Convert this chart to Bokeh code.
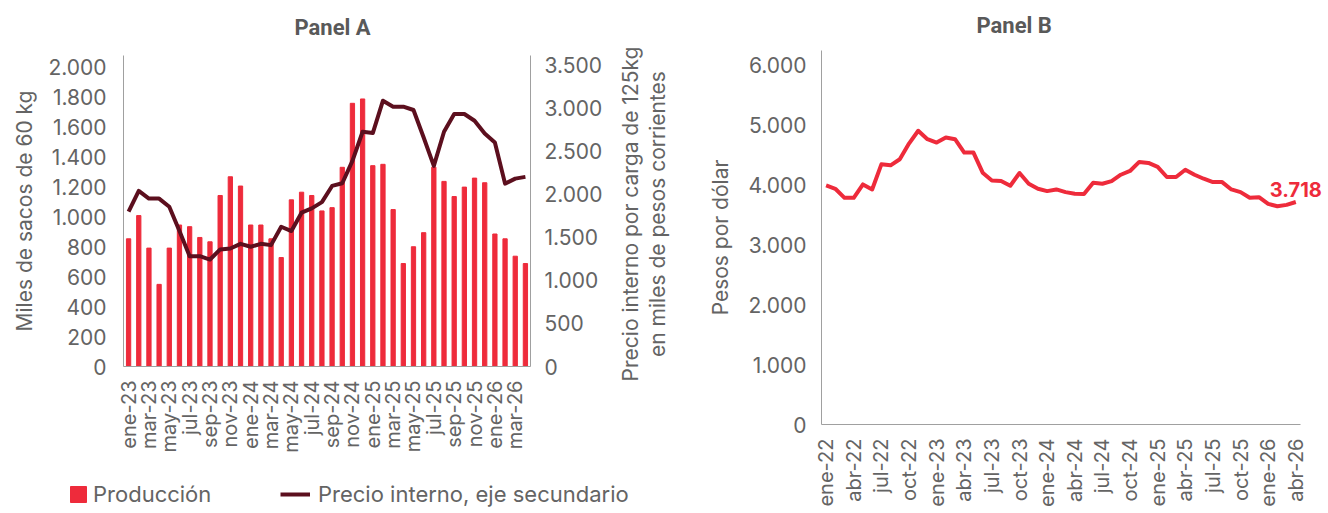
import math
from bokeh.plotting import figure
from bokeh.models import (Range1d, LinearAxis, FixedTicker, Legend, LegendItem, Label, Title)
from bokeh.layouts import row, column
from bokeh.embed import file_html
from bokeh.resources import INLINE

# ---------------- data ----------------
mes = ["ene", "feb", "mar", "abr", "may", "jun", "jul", "ago", "sep", "oct", "nov", "dic"]
meses_a = [f"{m}-{y}" for y in (23, 24, 25, 26) for m in mes][:40]      # ene-23 .. abr-26
meses_b = [f"{m}-{y}" for y in (22, 23, 24, 25, 26) for m in mes][:52]  # ene-22 .. abr-26

produccion = [852, 1007, 790, 548, 790, 944, 933, 861, 832, 1141,
              1266, 1204, 944, 944, 852, 727, 1112, 1163, 1141, 1038,
              1060, 1329, 1756, 1785, 1340, 1349, 1047, 687, 799, 893,
              1330, 1235, 1134, 1197, 1257, 1226, 884, 852, 736, 687]
precio = [1794, 2035, 1946, 1946, 1852, 1570, 1279, 1279, 1240, 1357,
          1368, 1422, 1388, 1422, 1407, 1620, 1570, 1783, 1833, 1905,
          2093, 2124, 2384, 2721, 2706, 3081, 3012, 3012, 2973, 2655,
          2326, 2721, 2927, 2927, 2849, 2701, 2597, 2120, 2178, 2198]
tasa = [3995, 3939, 3788, 3788, 4012, 3928, 4348, 4331, 4432, 4695,
        4909, 4768, 4712, 4796, 4768, 4544, 4544, 4208, 4079, 4070,
        3990, 4203, 4023, 3939, 3900, 3928, 3883, 3855, 3850, 4040,
        4023, 4068, 4174, 4237, 4388, 4371, 4304, 4136, 4136, 4258,
        4174, 4107, 4051, 4051, 3928, 3883, 3788, 3799, 3687, 3648,
        3670, 3718]

ticks_izq = [0, 200, 400, 600, 800, 1000, 1200, 1400, 1600, 1800, 2000]
ticks_der = [0, 500, 1000, 1500, 2000, 2500, 3000, 3500]
ticks_b = [0, 1000, 2000, 3000, 4000, 5000, 6000]

titulo_der = "Precio interno por carga de 125kg\nen miles de pesos corrientes"

# ---------------- style ----------------
FONT = "Inter"
GRAY = "#646464"
AXIS = "#A0A0A0"
RED = "#EE2B3B"
MAROON = "#5C0F1E"
FS = "21px"


def es(n):
    return f"{n:,}".replace(",", ".")


def style_axis(ax):
    ax.axis_line_color = AXIS
    ax.axis_line_width = 1
    ax.major_tick_line_color = None
    ax.minor_tick_line_color = None
    ax.major_tick_out = 0
    ax.major_tick_in = 0
    ax.minor_tick_out = 0
    ax.major_label_text_font = FONT
    ax.major_label_text_font_size = FS
    ax.major_label_text_color = GRAY
    ax.axis_label_text_font = FONT
    ax.axis_label_text_font_size = FS
    ax.axis_label_text_color = GRAY
    ax.axis_label_text_font_style = "normal"


def num_axis(ax, ticks):
    ax.ticker = FixedTicker(ticks=ticks)
    ax.major_label_overrides = {t: es(t) for t in ticks}


def blank(fig):
    fig.outline_line_color = None
    fig.xgrid.visible = False
    fig.ygrid.visible = False


def panel_title(text, offset, standoff):
    return Title(text=text, align="left", vertical_align="top", offset=offset,
                 standoff=standoff, text_font="Roboto", text_font_style="bold",
                 text_font_size="22px", text_color="#595959")


bar_style = dict(width=0.42, color=RED)
line_style = dict(line_width=4, color=MAROON, line_join="round")

# ---------------- Panel A ----------------
idx_a = list(range(len(meses_a)))
pA = figure(width=612, height=478, output_backend="svg", toolbar_location=None,
            x_range=Range1d(-0.5, len(meses_a) - 0.5), y_range=Range1d(0, 2075),
            min_border_left=123, min_border_right=82, min_border_top=55,
            min_border_bottom=112)
pA.extra_y_ranges = {"precio": Range1d(0, 3605)}
blank(pA)

bars = pA.vbar(x=idx_a, top=produccion, **bar_style)
lineA = pA.line(x=idx_a, y=precio, y_range_name="precio", **line_style)

xa = pA.xaxis[0]
style_axis(xa)
xa.ticker = FixedTicker(ticks=idx_a[::2])
xa.major_label_overrides = {i: meses_a[i] for i in idx_a[::2]}
xa.major_label_orientation = math.pi / 2
xa.major_label_standoff = 14
xa.major_label_text_font_size = "20px"

ya = pA.yaxis[0]
style_axis(ya)
num_axis(ya, ticks_izq)
ya.axis_label = "Miles de sacos de 60 kg"
ya.major_label_standoff = 17
ya.axis_label_standoff = 8

yr = LinearAxis(y_range_name="precio")
style_axis(yr)
num_axis(yr, ticks_der)
yr.major_label_standoff = 14
pA.add_layout(yr, "right")

pA.add_layout(panel_title("Panel A", 171, 27), "above")

# strip holding the secondary-axis title (reads bottom-to-top)
pT = figure(width=76, height=478, output_backend="svg", toolbar_location=None,
            x_range=Range1d(0, 1), y_range=Range1d(0, 1),
            x_axis_location=None, y_axis_location=None,
            min_border_left=0, min_border_right=0, min_border_top=0, min_border_bottom=0)
blank(pT)
pT.add_layout(Label(x=31.5, y=264.5, x_units="screen", y_units="screen",
                    text=titulo_der, angle=math.pi / 2,
                    text_align="center", text_baseline="middle",
                    text_font=FONT, text_font_size=FS, text_color=GRAY,
                    text_line_height=1.07))

# legend strip under Panel A
pL = figure(width=688, height=35, output_backend="svg", toolbar_location=None,
            x_range=Range1d(-100, -99), y_range=Range1d(-10000, -9999),
            x_axis_location=None, y_axis_location=None,
            min_border_left=0, min_border_right=0, min_border_top=0, min_border_bottom=0)
blank(pL)
lb = pL.vbar(x=idx_a, top=produccion, **bar_style)
ll = pL.line(x=idx_a, y=precio, **line_style)
leg_kw = dict(glyph_height=20, padding=0, border_line_color=None,
              background_fill_alpha=0, label_text_font=FONT,
              label_text_font_size="22px", label_text_color=GRAY, label_height=20)
pL.add_layout(Legend(items=[LegendItem(label="Producción", renderers=[lb])],
                     location=(68, 6), glyph_width=20, label_standoff=5, **leg_kw))
pL.add_layout(Legend(items=[LegendItem(label="Precio interno, eje secundario", renderers=[ll])],
                     location=(280, 6), glyph_width=30, label_standoff=8, **leg_kw))

# ---------------- Panel B ----------------
idx_b = list(range(len(meses_b)))
pB = figure(width=640, height=513, output_backend="svg", toolbar_location=None,
            x_range=Range1d(-0.5, 54.55), y_range=Range1d(0, 6250),
            min_border_left=133, min_border_right=0, min_border_top=50,
            min_border_bottom=89)
blank(pB)

pB.line(x=idx_b, y=tasa, line_width=4, color=RED, line_join="round")

xb = pB.xaxis[0]
style_axis(xb)
xb.bounds = (-0.5, len(meses_b) - 0.5)
xb.ticker = FixedTicker(ticks=idx_b[::3])
xb.major_label_overrides = {i: meses_b[i] for i in idx_b[::3]}
xb.major_label_orientation = math.pi / 2
xb.major_label_standoff = 14
xb.major_label_text_font_size = "20px"

yb = pB.yaxis[0]
style_axis(yb)
num_axis(yb, ticks_b)
yb.axis_label = "Pesos por dólar"
yb.major_label_standoff = 15
yb.axis_label_standoff = 12

ultimo = tasa[-1]
pB.add_layout(Label(x=idx_b[-1], y=ultimo, text=es(ultimo),
                    text_align="center", text_baseline="alphabetic", y_offset=13,
                    text_font=FONT, text_font_style="bold", text_font_size="20px",
                    text_color=RED))

pB.add_layout(panel_title("Panel B", 155, 22), "above")

layout = row(column(row(pA, column(pT)), row(pL)), pB)
open("out.html", "w").write(file_html(layout, INLINE))
